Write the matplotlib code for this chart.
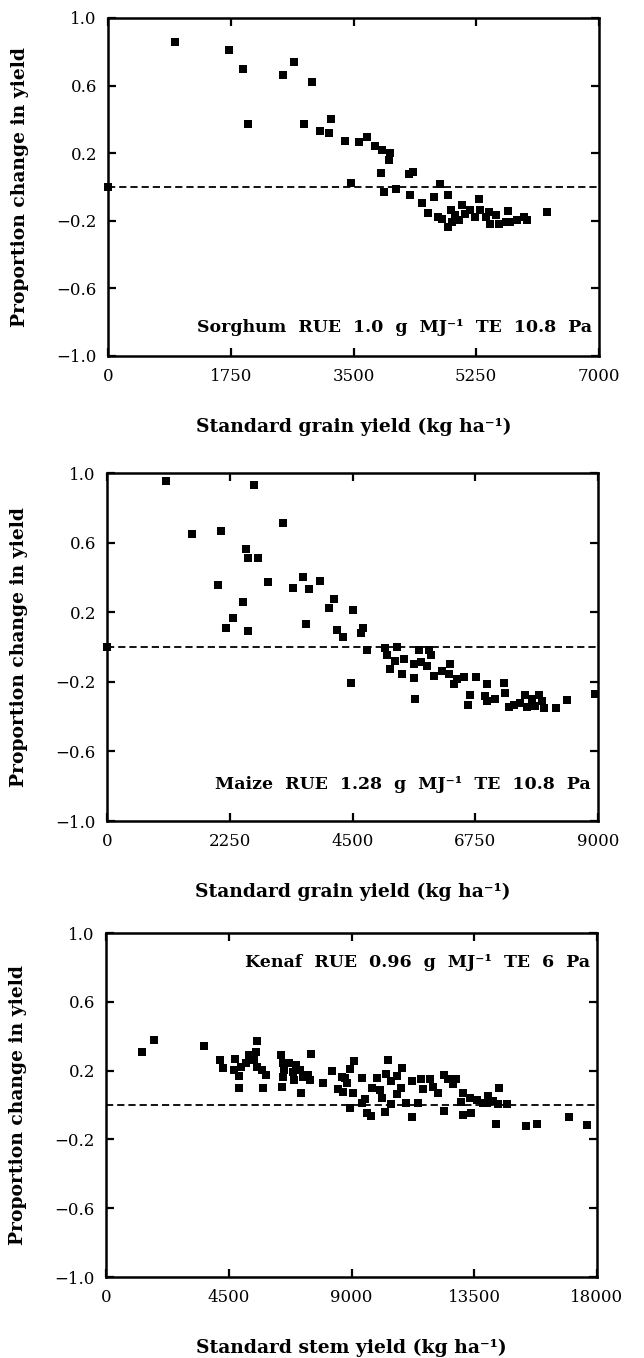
import matplotlib
matplotlib.use('Agg')
import matplotlib.pyplot as plt

# ---------------- data ----------------
sorghum_x = [0, 958, 1721, 1923, 1990, 2494, 2653, 2902, 2792, 3186, 3022, 3152, 3382, 3574,
             3694, 3810, 3901, 4026, 4006, 3896, 4285, 4352, 3469, 4731, 3934, 4102, 4304,
             4654, 4846, 5288, 4470, 4565, 4707, 4764, 4883, 4850, 4954, 4907, 5049, 5002,
             5087, 5168, 5239, 5310, 5382, 5453, 5429, 5534, 5571, 5704, 5676, 5738, 5833,
             5928, 5975, 6258]
sorghum_y = [0.0, 0.858, 0.81, 0.70, 0.37, 0.66, 0.737, 0.62, 0.37, 0.40, 0.33, 0.32, 0.27, 0.267,
             0.294, 0.245, 0.217, 0.204, 0.16, 0.085, 0.079, 0.087, 0.024, 0.02, -0.032, -0.014,
             -0.047, -0.06, -0.05, -0.07, -0.095, -0.154, -0.178, -0.188, -0.134, -0.237, -0.168,
             -0.207, -0.109, -0.198, -0.158, -0.138, -0.178, -0.138, -0.178, -0.217, -0.148,
             -0.168, -0.217, -0.142, -0.207, -0.207, -0.198, -0.178, -0.198, -0.148]

maize_x = [0, 1090, 2694, 3219, 1565, 2096, 2553, 2590, 2775, 2028, 2948, 3590, 3417, 3707, 3904,
           2485, 4164, 4071, 4515, 2312, 2176, 2583, 3645, 4219, 4701, 4651, 4318,
           4476, 4769, 5104, 5318, 5135, 5287, 5440, 5196, 5409, 5623, 5727, 5898, 5763, 5867,
           5946, 5623, 5654, 5989, 6141, 6294, 6263, 6355, 6416, 6538, 6764, 6660, 6617, 6965,
           6934, 6965, 7118, 7270, 7300, 7361, 7453, 7575, 7667, 7697, 7789, 7850, 7911, 7972,
           8002, 8228, 8429, 8940]
maize_y = [0.0, 0.952, 0.93, 0.714, 0.648, 0.667, 0.562, 0.51, 0.514, 0.356, 0.375, 0.40, 0.341,
           0.331, 0.379, 0.261, 0.276, 0.223, 0.215, 0.168, 0.112, 0.09, 0.13, 0.097, 0.112, 0.08,
           0.057, -0.205, -0.019, -0.004, 0.0, -0.046, -0.08, -0.071, -0.129, -0.154, -0.10,
           -0.019, -0.019, -0.084, -0.109, -0.046, -0.177, -0.30, -0.167, -0.138, -0.096, -0.154,
           -0.215, -0.186, -0.173, -0.173, -0.273, -0.334, -0.215, -0.282, -0.311, -0.30, -0.205,
           -0.263, -0.345, -0.334, -0.32, -0.276, -0.345, -0.30, -0.34, -0.273, -0.311, -0.349,
           -0.353, -0.307, -0.27]

kenaf_x = [1323, 1743, 3609, 4190, 4289, 4747, 4685, 4883, 4932, 5117, 5241, 5488, 5550, 5426,
           5550, 5735, 5859, 4870, 5772, 6415, 6477, 6539, 6477, 6440, 6724, 6971, 6848, 7095,
           6910, 7219, 7404, 7466, 7132, 7500, 7960, 8294, 8492, 8640,
           8949, 9100, 8763, 8825, 8516, 8702, 9072, 9381, 9505, 9381, 8950, 9938, 10247, 10350,
           10865, 10432, 10679, 9752, 10061, 10123, 10803, 10679, 10432, 11235, 11544, 11606,
           11878, 11421, 12409, 12533, 12842, 12718, 11986, 12162, 13089, 13337, 13584, 14017,
           14202, 14424, 14387, 14696,
           9567, 9727, 10222, 11235, 10988, 12409, 13089, 13374, 13027, 13830, 13955, 14288,
           15413, 15784, 16983, 17625]
kenaf_y = [0.31, 0.379, 0.344, 0.262, 0.214, 0.27, 0.204, 0.169, 0.223, 0.247, 0.291, 0.311, 0.375,
           0.262, 0.223, 0.204, 0.175, 0.097, 0.097, 0.291, 0.243, 0.204, 0.165, 0.107, 0.243,
           0.233, 0.194, 0.204, 0.146, 0.165, 0.175, 0.146, 0.072, 0.297, 0.126, 0.2, 0.091, 0.165,
           0.208, 0.256, 0.159, 0.13, 0.091, 0.078, 0.072, 0.159, 0.033, 0.014, -0.015, 0.155,
           0.179, 0.26, 0.214, 0.14, 0.169, 0.097, 0.085, 0.043, 0.101, 0.062, 0.004, 0.14, 0.15,
           0.091, 0.15, 0.014, 0.175, 0.15, 0.15, 0.12, 0.105, 0.072, 0.072, 0.043, 0.027, 0.052,
           0.023, 0.097, 0.004, 0.004,
           -0.048, -0.063, -0.038, -0.067, 0.013, -0.035, -0.058, -0.044, 0.02, 0.01, 0.01,
           -0.108, -0.121, -0.112, -0.067, -0.117]

y_ticks = [-1.0, -0.6, -0.2, 0.2, 0.6, 1.0]
sorghum_xticks = [0, 1750, 3500, 5250, 7000]
maize_xticks = [0, 2250, 4500, 6750, 9000]
kenaf_xticks = [0, 4500, 9000, 13500, 18000]

ylabel_text = 'Proportion change in yield'
panels = [
    dict(x=sorghum_x, y=sorghum_y, xticks=sorghum_xticks,
         xlabel='Standard grain yield (kg ha\u207b\u00b9)',
         note='Sorghum  RUE  1.0  g  MJ\u207b\u00b9  TE  10.8  Pa', note_y=-0.83,
         box=(108, 18, 599, 356)),
    dict(x=maize_x, y=maize_y, xticks=maize_xticks,
         xlabel='Standard grain yield (kg ha\u207b\u00b9)',
         note='Maize  RUE  1.28  g  MJ\u207b\u00b9  TE  10.8  Pa', note_y=-0.79,
         box=(107, 473, 598, 821)),
    dict(x=kenaf_x, y=kenaf_y, xticks=kenaf_xticks,
         xlabel='Standard stem yield (kg ha\u207b\u00b9)',
         note='Kenaf  RUE  0.96  g  MJ\u207b\u00b9  TE  6  Pa', note_y=0.83,
         box=(106, 933, 597, 1277)),
]

# ---------------- style ----------------
plt.rcParams['font.family'] = ['DejaVu Serif']
plt.rcParams['axes.unicode_minus'] = True

W, H = 644, 1358
fig = plt.figure(figsize=(W / 100, H / 100), dpi=100)
TICK_FS = 12
LAB_FS = 13.5
NOTE_FS = 12.5

for p in panels:
    l, t, r, b = p['box']
    ax = fig.add_axes([l / W, 1 - b / H, (r - l) / W, (b - t) / H])
    xmax = p['xticks'][-1]
    ax.set_xlim(0, xmax)
    ax.set_ylim(-1.0, 1.0)
    ax.axhline(0, color='black', lw=1.3, ls=(0, (4, 2.2)), zorder=1)
    ax.plot(p['x'], p['y'], 's', color='black', ms=5.8, mew=0, zorder=3, clip_on=False)
    ax.set_xticks(p['xticks'])
    ax.set_xticklabels([str(v) for v in p['xticks']])
    ax.set_yticks(y_ticks)
    ax.set_yticklabels([f'{v:.1f}'.replace('-', '\u2212') for v in y_ticks])
    ax.tick_params(direction='in', length=6, width=1.6, top=True, right=True,
                   labelsize=TICK_FS, pad=9)
    ax.tick_params(axis='y', pad=8)
    for s in ax.spines.values():
        s.set_linewidth(1.8)
    ax.set_ylabel(ylabel_text, fontsize=LAB_FS, fontweight='bold')
    ax.yaxis.set_label_coords(-0.16, 0.5)
    ax.set_xlabel(p['xlabel'], fontsize=LAB_FS, fontweight='bold', labelpad=23)
    ax.text(0.985, p['note_y'], p['note'], transform=ax.get_yaxis_transform(),
            ha='right', va='center', fontsize=NOTE_FS, fontweight='bold')

fig.savefig('out.png', dpi=100, facecolor='white')
